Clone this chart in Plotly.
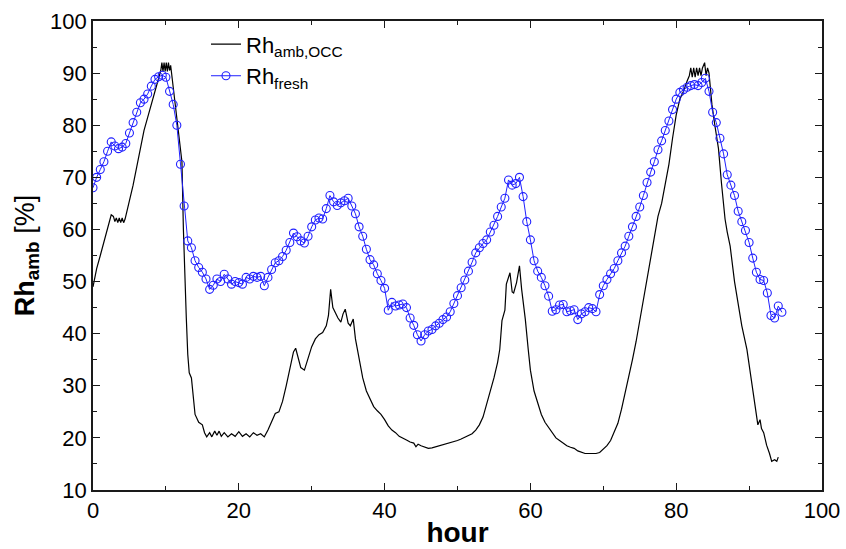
import plotly.graph_objects as go

# ---- Rh_fresh (blue circles), sampled every 0.5 h starting at 0 h ----
fresh_step = 0.5
fresh_values = [
    68, 70, 71.5, 73, 75, 76.8, 76, 75.5, 75.8, 76.5,
    78.5, 80.5, 82.5, 84.3, 85, 86, 87.5, 88.8, 89.3, 89.6,
    89.2, 86.5, 84, 80, 72.5, 64.5, 57.8, 56.5, 54, 52.7,
    51.8, 50.5, 48.5, 49.3, 50.5, 50, 51.4, 50.5, 49.5, 50,
    49.8, 49.5, 50.8, 50.5, 51, 50.8, 51, 49.2, 50.8, 52.3,
    53.6, 54, 54.8, 56, 57.5, 59.3, 58.6, 57.8, 57.4, 58.7,
    60.5, 61.8, 62.2, 62, 64, 66.5, 65.3, 64.6, 65.1, 65.5,
    66, 64.5, 63, 60.5, 58.7, 56.2, 54.2, 53.2, 51.5, 50.2,
    48.7, 44.5, 46, 45.3, 45.5, 45.7, 45, 43, 41.6, 39.8,
    38.6, 39.8, 40.5, 40.8, 41.5, 42, 42.7, 43.2, 44.2, 45.8,
    47.3, 48.8, 50.3, 52, 53.7, 55.5, 56.5, 57.3, 58, 59.5,
    60.8, 62.5, 64.3, 66, 69.5, 68.5, 68.8, 70, 66.3, 61.5,
    58, 54, 52, 50.8, 49.2, 47.2, 44.3, 44.6, 45.5, 45.6,
    44.2, 44.4, 44.6, 42.7, 43.8, 44.2, 45, 44.8, 44.2, 47.5,
    49.2, 50.4, 51.5, 52.5, 54, 55.5, 56.8, 58.7, 60.5, 62.5,
    64.3, 66.5, 69, 71, 73, 75.3, 77, 79, 80.8, 83,
    85, 86.3, 86.8, 87.3, 87.6, 87.8, 87.6, 88.2, 89, 86.5,
    82.5, 80.5, 77.5, 74.5, 70.5, 68.5, 66.5, 63.5, 61.5, 59.8,
    57.5, 54.5, 51.8, 50.4, 50.2, 47.8, 43.5, 43, 45.3, 44.1,
]
fresh_hours = [i * fresh_step for i in range(len(fresh_values))]

# ---- Rh_amb,OCC (black line): (hour, value) readings ----
occ_points = [
    (0, 49), (0.5, 52.5), (1, 55), (1.5, 57.5), (2, 60), (2.5, 62.8), (2.8, 62.5),
    (3.0, 61.5), (3.2, 62.2), (3.4, 61.3), (3.6, 62.2), (3.8, 61.3), (4.0, 62.2),
    (4.2, 61.3), (4.4, 62), (5, 65.5), (5.5, 68.5), (6, 72), (6.5, 75.5), (7, 79),
    (7.5, 81.5), (8, 84), (8.5, 86.5), (9, 89), (9.3, 90.5), (9.45, 92), (9.6, 90.3),
    (9.75, 92), (9.9, 90.3), (10.05, 92), (10.2, 90.3), (10.35, 92), (10.5, 90.5),
    (10.65, 91.5), (11, 87.3), (11.5, 82.5), (12, 76), (12.2, 73), (12.4, 60),
    (12.6, 50), (12.8, 43), (13, 36), (13.2, 32.5), (13.5, 31.5), (13.8, 28),
    (14, 24.5), (14.5, 23), (15, 22.5), (15.3, 21), (15.6, 20.2), (16, 21),
    (16.3, 20.2), (16.7, 21.3), (17, 20.5), (17.3, 21.3), (17.6, 20.3), (18, 21),
    (18.5, 20.2), (19, 20.8), (19.5, 20.3), (20, 21.2), (20.5, 20.3), (21, 20.8),
    (21.5, 20.2), (22, 21), (22.5, 20.5), (23, 20.8), (23.5, 20.2), (24, 21.5),
    (24.5, 23), (25, 24.7), (25.5, 25), (26, 27), (26.5, 30), (27, 33), (27.5, 36.5),
    (27.8, 37.2), (28.2, 35), (28.5, 33.5), (29, 33), (29.5, 35.5), (30, 37.5),
    (30.5, 39), (31, 39.8), (31.5, 40.2), (32, 41.5), (32.3, 43.5), (32.6, 48.5),
    (32.9, 45), (33.2, 44), (33.6, 43), (34, 42.2), (34.3, 43.8), (34.6, 44.7),
    (35, 42), (35.3, 41.5), (35.7, 42.8), (36, 39), (36.5, 35.5), (37, 31.5),
    (37.5, 29), (38, 27.5), (38.5, 26), (39, 25.2), (39.5, 24.5), (40, 23.5),
    (40.5, 22.3), (41, 21.5), (41.5, 21), (42, 20.3), (42.5, 20), (43, 19.6),
    (43.5, 19.2), (44, 19), (44.3, 18.3), (44.6, 18.8), (45, 18.5), (45.5, 18.2),
    (46, 18), (46.5, 18.1), (47, 18.3), (47.5, 18.4), (48, 18.6), (48.5, 18.8),
    (49, 19), (49.5, 19.3), (50, 19.5), (50.5, 19.8), (51, 20.1), (51.5, 20.4),
    (52, 20.8), (52.5, 21.5), (53, 22.5), (53.5, 24), (54, 26.5), (54.5, 28.5),
    (55, 31.5), (55.5, 34.5), (55.8, 37), (56.1, 42.5), (56.5, 44.5), (56.7, 49.5),
    (57.2, 51.7), (57.5, 48), (57.7, 47.8), (58.1, 49.8), (58.5, 53), (58.8, 48.5),
    (59.3, 42.8), (59.7, 37), (60, 33), (60.5, 29), (61, 26.5), (61.5, 24.5),
    (62, 23), (62.5, 22), (63, 21), (63.5, 20), (64, 19.5), (64.5, 19), (65, 18.5),
    (65.5, 18.2), (66, 18), (66.5, 17.5), (67, 17.2), (67.5, 17), (68, 17),
    (68.5, 17), (69, 17), (69.5, 17.2), (70, 17.8), (70.5, 18.5), (71, 19.5),
    (71.5, 21), (72, 22.8), (72.5, 25.5), (73, 28.5), (73.5, 32), (74, 35),
    (74.5, 38.5), (75, 42.5), (75.5, 46.5), (76, 51), (76.5, 55), (77, 59),
    (77.5, 62.5), (78, 65), (78.5, 68.5), (79, 72.5), (79.5, 77.5), (80, 82),
    (80.5, 85), (81, 86.5), (81.5, 88.5), (81.8, 89.5), (82.0, 91), (82.2, 89.2),
    (82.4, 91), (82.6, 89.2), (82.8, 91), (83.0, 89.5), (83.2, 91), (83.4, 89.5),
    (83.6, 91), (83.9, 92), (84.1, 89.5), (84.3, 91), (84.5, 90), (84.9, 84),
    (85.3, 80), (85.8, 75.5), (86.2, 69), (86.7, 62), (87, 59.5), (87.4, 56.8),
    (88, 50), (88.3, 47.2), (89, 41.5), (89.7, 37), (90.3, 31.4), (90.8, 26.9),
    (91.2, 22.5), (91.5, 23.5), (91.7, 21.8), (92, 21), (92.4, 18.6), (92.8, 17),
    (93.1, 15.5), (93.5, 15.8), (93.8, 15.5), (94, 16.3),
]
occ_hours = [p[0] for p in occ_points]
occ_values = [p[1] for p in occ_points]

x_ticks = [0, 20, 40, 60, 80, 100]
y_ticks = [10, 20, 30, 40, 50, 60, 70, 80, 90, 100]

FONT = "Liberation Sans, Arial, sans-serif"

fig = go.Figure()
fig.add_trace(go.Scatter(
    x=occ_hours, y=occ_values, mode="lines",
    name="Rh<sub>amb,OCC</sub>",
    line=dict(color="black", width=1.2),
))
fig.add_trace(go.Scatter(
    x=fresh_hours, y=fresh_values, mode="lines+markers",
    name="Rh<sub>fresh</sub>",
    line=dict(color="#2020ff", width=1),
    marker=dict(symbol="circle-open", size=8, color="#2020ff",
                line=dict(width=1.1, color="#2020ff")),
))

axis_common = dict(
    showgrid=False, zeroline=False, showline=True, linecolor="#1a1a1a",
    linewidth=1.6, mirror="ticks", ticks="inside", ticklen=7, tickwidth=1,
    tickcolor="#1a1a1a", tickfont=dict(family=FONT, size=22, color="black"),
)

fig.update_xaxes(
    range=[0, 100], tickvals=x_ticks,
    minor=dict(dtick=10, ticks="inside", ticklen=4, tickcolor="#1a1a1a"),
    title=dict(text="<b>hour</b>", font=dict(family=FONT, size=28, color="black"),
               standoff=0),
    **axis_common,
)
fig.update_yaxes(
    range=[10, 100], tickvals=y_ticks,
    minor=dict(dtick=5, ticks="inside", ticklen=4, tickcolor="#1a1a1a"),
    title=dict(text="<b>Rh<sub>amb</sub></b> [%]",
               font=dict(family=FONT, size=27, color="black"), standoff=8),
    **axis_common,
)

fig.update_layout(
    width=846, height=549,
    margin=dict(l=93, r=24, t=21, b=59, autoexpand=False),
    paper_bgcolor="white", plot_bgcolor="white",
    font=dict(family=FONT, color="black"),
    showlegend=True,
    legend=dict(x=0.155, y=0.995, xanchor="left", yanchor="top",
                bgcolor="rgba(0,0,0,0)", font=dict(family=FONT, size=22),
                itemwidth=30, tracegroupgap=0),
)

fig.write_html("out.html")
